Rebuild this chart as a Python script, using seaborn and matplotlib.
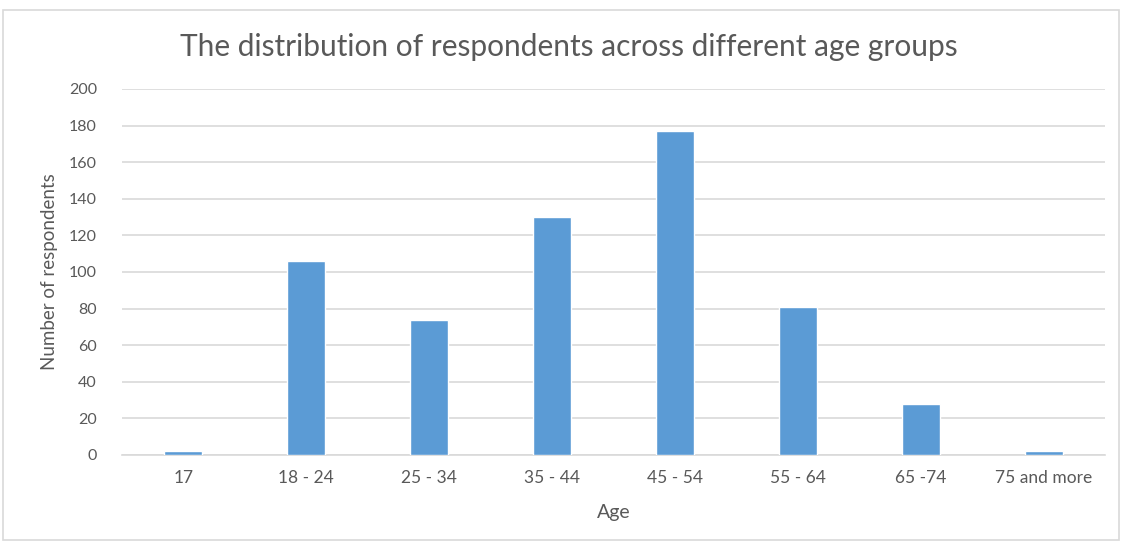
import matplotlib
matplotlib.use("Agg")
import matplotlib.pyplot as plt
import seaborn as sns
import pandas as pd
from matplotlib.patches import Rectangle

age_groups = ["17", "18 - 24", "25 - 34", "35 - 44", "45 - 54", "55 - 64", "65 -74", "75 and more"]
respondents = [2, 106, 74, 130, 177, 81, 28, 2]
y_ticks = [0, 20, 40, 60, 80, 100, 120, 140, 160, 180, 200]

df = pd.DataFrame({"Age": age_groups, "Respondents": respondents})

sns.set_theme(style="white")
plt.rcParams["font.family"] = ["Lato", "DejaVu Sans"]

text_color = "#595959"
bar_color = "#5B9BD5"
grid_color = "#D9D9D9"

fig = plt.figure(figsize=(11.24, 5.43), dpi=100)
ax = fig.add_axes([122 / 1124, 1 - 455 / 543, (1105 - 122) / 1124, (455 - 89) / 543])

sns.barplot(data=df, x="Age", y="Respondents", color=bar_color, width=0.31,
            saturation=1, ax=ax, zorder=3)

ax.set_ylim(0, 200)
ax.set_xlim(-0.5, len(age_groups) - 0.5)
ax.set_yticks(y_ticks)
ax.yaxis.grid(True, color=grid_color, linewidth=1.2, zorder=0)
ax.set_axisbelow(True)
for side in ["top", "right", "left"]:
    ax.spines[side].set_visible(False)
ax.spines["bottom"].set_color(grid_color)
ax.spines["bottom"].set_linewidth(1.2)
ax.tick_params(axis="x", length=0, colors=text_color, labelsize=12.5, pad=11)
ax.tick_params(axis="y", length=0, colors=text_color, labelsize=11.5, pad=18)

ax.set_xlabel("Age", fontsize=14, color=text_color, labelpad=13)
ax.set_ylabel("Number of respondents", fontsize=13.5, color=text_color, labelpad=8)

fig.text(569 / 1124, 1 - 47 / 543, "The distribution of respondents across different age groups",
         ha="center", va="center", fontsize=21.5, color=text_color)

# chart frame
fig.patches.append(Rectangle((3 / 1124, 3 / 543), 1116 / 1124, 530 / 543,
                             transform=fig.transFigure, fill=False,
                             edgecolor="#D9D9D9", linewidth=1.2))

fig.savefig("out.png", dpi=100, facecolor="white")
